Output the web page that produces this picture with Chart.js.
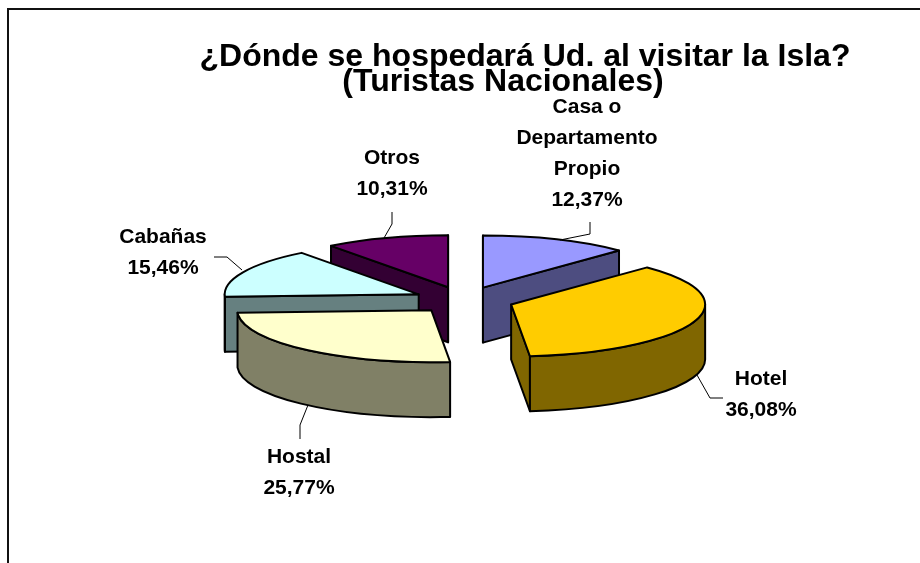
<!DOCTYPE html>
<html lang="es">
<head>
<meta charset="utf-8">
<title>¿Dónde se hospedará Ud. al visitar la Isla?</title>
<script src="https://cdn.jsdelivr.net/npm/chart.js@4"></script>
<style>
  html, body { margin: 0; background: #fff; overflow: hidden; }
  #frame { position: absolute; left: 7px; top: 8px; width: 913px; height: 555px; border-top: 2px solid #111; border-left: 2px solid #111; box-sizing: border-box; }
  #chart { position: absolute; left: 0; top: 0; }
</style>
</head>
<body>
<div id="frame"></div>
<canvas id="chart" width="920" height="563"></canvas>
<script>
// Datos
var categorias = [["Casa o", "Departamento", "Propio"], ["Hotel"], ["Hostal"], ["Cabañas"], ["Otros"]];
var porcentajes = [12.37, 36.08, 25.77, 15.46, 10.31];
var colores = ["#9999FF", "#FFCC00", "#FFFFCC", "#CCFFFF", "#660066"];
var coloresLado = ["#4D4D80", "#806600", "#808066", "#668080", "#330033"];
var titulos = ["¿Dónde se hospedará Ud. al visitar la Isla?", "(Turistas Nacionales)"];

// Geometria del pastel 3D
var radio = 194;
var aplastado = 0.268; // relacion alto/ancho de la elipse
var separacion = 50; // cuanto se separa cada trozo del centro
var profundidad = 55;

// Posicion de textos y lineas guia
var posTitulos = [[525, 57], [503, 82]];
var posEtiquetas = [[587, 107], [761, 379], [299, 457], [163, 237], [392, 158]];
var altoLinea = 31;
var guias = [
  [[590, 222], [590, 234], [560, 240]],
  [[723, 398], [710, 398], [697, 375]],
  [[300, 439], [300, 425], [308, 405]],
  [[214, 257], [227, 257], [242, 270]],
  [[392, 212], [392, 224], [384, 238]],
];

function centroTrozo(arc) {
  var medio = (arc.startAngle + arc.endAngle) / 2;
  return {
    x: arc.x + Math.cos(medio) * separacion,
    y: arc.y + Math.sin(medio) * separacion * aplastado,
  };
}

// Cara plana del corte: solo si mira hacia el espectador
function dibujarCorte(ctx, c, angulo, normal) {
  if (Math.sin(normal) < -1e-6) return;
  var px = c.x + Math.cos(angulo) * radio;
  var py = c.y + Math.sin(angulo) * radio * aplastado;
  ctx.beginPath();
  ctx.moveTo(c.x, c.y);
  ctx.lineTo(px, py);
  ctx.lineTo(px, py + profundidad);
  ctx.lineTo(c.x, c.y + profundidad);
  ctx.closePath();
  ctx.fill();
  ctx.stroke();
}

// Pared exterior: la parte del borde en la mitad de abajo de la elipse
function dibujarPared(ctx, c, inicio, fin) {
  var a0 = Math.max(inicio, 0);
  var a1 = Math.min(fin, Math.PI);
  if (a1 <= a0) return;
  ctx.beginPath();
  ctx.ellipse(c.x, c.y, radio, radio * aplastado, 0, a0, a1);
  ctx.ellipse(c.x, c.y + profundidad, radio, radio * aplastado, 0, a1, a0, true);
  ctx.closePath();
  ctx.fill();
  ctx.stroke();
}

var pastel3D = {
  id: "pastel3D",
  beforeDatasetDraw: function (chart) {
    var ctx = chart.ctx;
    var arcos = chart.getDatasetMeta(0).data;
    var orden = arcos.map(function (arc, i) { return i; });
    // de atras hacia adelante
    orden.sort(function (a, b) { return centroTrozo(arcos[a]).y - centroTrozo(arcos[b]).y; });

    orden.forEach(function (i) {
      var arc = arcos[i];
      var c = centroTrozo(arc);

      ctx.save();
      ctx.lineWidth = 2;
      ctx.lineJoin = "round";
      ctx.strokeStyle = "#000";
      ctx.fillStyle = coloresLado[i];
      dibujarCorte(ctx, c, arc.startAngle, arc.startAngle - Math.PI / 2);
      dibujarCorte(ctx, c, arc.endAngle, arc.endAngle + Math.PI / 2);
      dibujarPared(ctx, c, arc.startAngle, arc.endAngle);
      ctx.restore();

      // la tapa la pinta el propio elemento arc de Chart.js
      ctx.save();
      ctx.translate(c.x, c.y);
      ctx.scale(1, aplastado);
      ctx.translate(-arc.x, -arc.y);
      arc.draw(ctx);
      ctx.restore();

      ctx.save();
      ctx.lineWidth = 2;
      ctx.lineJoin = "round";
      ctx.strokeStyle = "#000";
      ctx.beginPath();
      ctx.moveTo(c.x, c.y);
      ctx.ellipse(c.x, c.y, radio, radio * aplastado, 0, arc.startAngle, arc.endAngle);
      ctx.closePath();
      ctx.stroke();
      ctx.restore();
    });
    return false;
  },
  afterDatasetsDraw: function (chart) {
    var ctx = chart.ctx;
    ctx.save();
    ctx.fillStyle = "#000";
    ctx.textAlign = "center";
    ctx.textBaseline = "middle";

    ctx.font = "bold 32px 'Liberation Sans', Arial, sans-serif";
    titulos.forEach(function (t, i) {
      ctx.fillText(t, posTitulos[i][0], posTitulos[i][1]);
    });

    ctx.font = "bold 21px 'Liberation Sans', Arial, sans-serif";
    categorias.forEach(function (lineas, i) {
      var textos = lineas.concat(porcentajes[i].toFixed(2).replace(".", ",") + "%");
      textos.forEach(function (t, j) {
        ctx.fillText(t, posEtiquetas[i][0], posEtiquetas[i][1] + j * altoLinea);
      });
    });

    ctx.strokeStyle = "#000";
    ctx.lineWidth = 1;
    guias.forEach(function (g) {
      ctx.beginPath();
      ctx.moveTo(g[0][0], g[0][1]);
      ctx.lineTo(g[1][0], g[1][1]);
      ctx.lineTo(g[2][0], g[2][1]);
      ctx.stroke();
    });
    ctx.restore();
  },
};

new Chart(document.getElementById("chart").getContext("2d"), {
  type: "pie",
  data: {
    labels: categorias.map(function (c) { return c.join(" "); }),
    datasets: [
      {
        data: porcentajes,
        backgroundColor: colores,
        borderWidth: 0,
      },
    ],
  },
  options: {
    responsive: false,
    animation: false,
    events: [],
    radius: radio,
    layout: { padding: { left: 8, top: 37 } },
    plugins: {
      legend: { display: false },
      tooltip: { enabled: false },
    },
  },
  plugins: [pastel3D],
});
</script>
</body>
</html>
